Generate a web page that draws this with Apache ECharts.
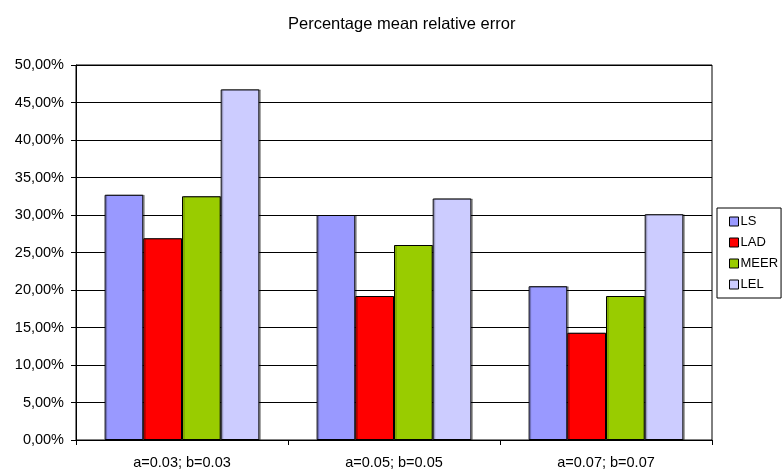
<!DOCTYPE html>
<html>
<head>
<meta charset="utf-8">
<script src="https://cdn.jsdelivr.net/npm/echarts@6/dist/echarts.min.js"></script>
<style>
  html, body { margin: 0; padding: 0; background: #fff; }
  #chart { width: 783px; height: 470px; }
</style>
</head>
<body>
<div id="chart"></div>
<script>
// Parameter settings on the category axis
const categories = ['a=0.03; b=0.03', 'a=0.05; b=0.05', 'a=0.07; b=0.07'];

// Percentage mean relative error per estimator (%)
const seriesNames = ['LS', 'LAD', 'MEER', 'LEL'];
const lsValues   = [32.7, 30.0, 20.5];
const ladValues  = [26.9, 19.2, 14.3];
const meerValues = [32.5, 26.0, 19.2];
const lelValues  = [46.75, 32.2, 30.1];

const colors = ['#9999FF', '#FF0000', '#99CC00', '#CCCCFF'];
const valueSets = [lsValues, ladValues, meerValues, lelValues];

const font = "'Liberation Sans', Arial, sans-serif";

const chart = echarts.init(document.getElementById('chart'), null, { renderer: 'canvas' });

chart.setOption({
  animation: false,
  backgroundColor: '#ffffff',
  title: {
    text: 'Percentage mean relative error',
    left: 283,
    top: 11,
    textStyle: { fontFamily: font, fontSize: 16.5, fontWeight: 'normal', color: '#000' }
  },
  legend: {
    data: seriesNames,
    orient: 'vertical',
    left: 717,
    top: 208,
    padding: [7, 3, 7, 12],
    itemGap: 8,
    itemWidth: 9,
    itemHeight: 9,
    icon: 'rect',
    borderColor: '#000',
    borderWidth: 1,
    backgroundColor: '#fff',
    itemStyle: { borderColor: '#000', borderWidth: 1 },
    textStyle: { fontFamily: font, fontSize: 13, color: '#000', lineHeight: 13, padding: [0, 0, 0, -3] }
  },
  grid: {
    left: 76,
    right: 71,
    top: 65,
    bottom: 30,
    show: true,
    borderColor: '#000',
    borderWidth: 1,
    backgroundColor: '#fff'
  },
  xAxis: {
    type: 'category',
    data: categories,
    axisLine: { lineStyle: { color: '#000', width: 1 } },
    axisTick: { show: true, length: 5, inside: false, lineStyle: { color: '#000' } },
    axisLabel: { margin: 15, fontFamily: font, fontSize: 14.5, color: '#000' }
  },
  yAxis: {
    type: 'value',
    min: 0,
    max: 50,
    interval: 5,
    axisLine: { show: true, lineStyle: { color: '#000', width: 1 } },
    axisTick: { show: true, length: 5, lineStyle: { color: '#000' } },
    splitLine: { show: true, lineStyle: { color: '#000', width: 1 } },
    axisLabel: {
      margin: 12,
      fontFamily: font,
      fontSize: 14.5,
      color: '#000',
      formatter: v => v.toFixed(2).replace('.', ',') + '%'
    }
  },
  series: seriesNames.map((name, i) => ({
    name: name,
    type: 'bar',
    data: valueSets[i],
    barGap: '0%',
    barCategoryGap: '27%',
    itemStyle: {
      color: colors[i],
      borderColor: '#000',
      borderWidth: 1,
      shadowColor: 'rgba(0,0,0,0.3)',
      shadowOffsetX: 1.5,
      shadowOffsetY: 0,
      shadowBlur: 0
    }
  }))
});
</script>
</body>
</html>
